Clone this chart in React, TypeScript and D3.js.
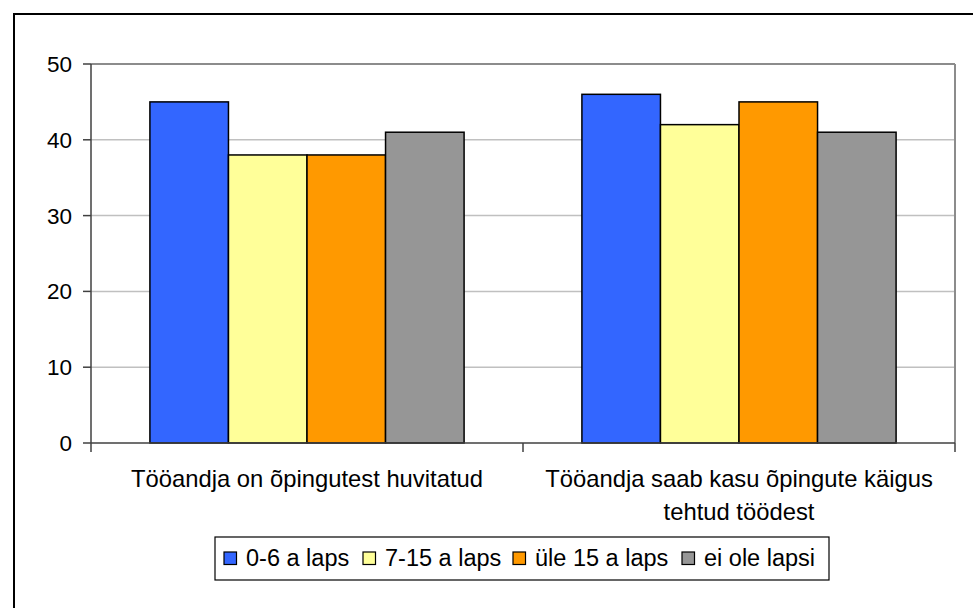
import React from "react";
import * as d3 from "d3";

const categories = [
  ["Tööandja on õpingutest huvitatud"],
  ["Tööandja saab kasu õpingute käigus", "tehtud töödest"],
];
const seriesNames = ["0-6 a laps", "7-15 a laps", "üle 15 a laps", "ei ole lapsi"];
const seriesColors = ["#3366FF", "#FFFF99", "#FF9900", "#969696"];
const values = [
  [45, 38, 38, 41],
  [46, 42, 45, 41],
];
const yTicks = [0, 10, 20, 30, 40, 50];

const W = 973;
const H = 608;
const plot = { left: 91, right: 955, top: 64, bottom: 443 };
const FONT = "'Liberation Sans', Arial, sans-serif";

export default function App() {
  const y = d3.scaleLinear().domain([0, 50]).range([plot.bottom, plot.top]);
  const x0 = d3
    .scaleBand<number>()
    .domain(categories.map((_, i) => i))
    .range([plot.left, plot.right])
    .paddingInner(0)
    .paddingOuter(0);
  const groupW = x0.bandwidth();
  const barW = groupW / (4 + 1.5);
  const x1 = d3
    .scaleBand<number>()
    .domain(seriesNames.map((_, i) => i))
    .range([barW * 0.75, groupW - barW * 0.75])
    .padding(0);

  const itemStarts = [224, 363, 513, 682];

  return (
    <svg
      width={W}
      height={H}
      style={{ position: "absolute", left: 0, top: 0, display: "block", background: "#fff" }}
      fontFamily={FONT}
    >
      <rect x={0} y={0} width={W} height={H} fill="#fff" />
      <rect x={14} y={14} width={1100} height={800} fill="#fff" stroke="#000" strokeWidth={2} />

      {/* gridlines */}
      {yTicks.slice(1).map((t) => (
        <line
          key={t}
          x1={plot.left}
          x2={plot.right}
          y1={y(t)}
          y2={y(t)}
          stroke={t === 50 ? "#8c8c8c" : "#c0c0c0"}
          strokeWidth={t === 50 ? 2 : 1.5}
        />
      ))}
      <line x1={plot.right} x2={plot.right} y1={plot.top} y2={plot.bottom} stroke="#8c8c8c" strokeWidth={2} />

      {/* bars */}
      {values.map((vals, ci) =>
        vals.map((v, si) => (
          <rect
            key={`${ci}-${si}`}
            x={(x0(ci) as number) + (x1(si) as number)}
            y={y(v)}
            width={x1.bandwidth()}
            height={y(0) - y(v)}
            fill={seriesColors[si]}
            stroke="#000"
            strokeWidth={1.5}
          />
        ))
      )}

      {/* y axis */}
      <line x1={plot.left} x2={plot.left} y1={plot.top} y2={plot.bottom} stroke="#404040" strokeWidth={1.5} />
      {yTicks.map((t) => (
        <g key={t}>
          <line x1={plot.left - 8} x2={plot.left} y1={y(t)} y2={y(t)} stroke="#404040" strokeWidth={1.5} />
          <text x={72} y={y(t) + 8} textAnchor="end" fontSize={22.5} fill="#000">
            {t}
          </text>
        </g>
      ))}

      {/* x axis */}
      <line x1={plot.left} x2={plot.right} y1={plot.bottom} y2={plot.bottom} stroke="#404040" strokeWidth={1.5} />
      {[0, 1, 2].map((i) => {
        const xx = plot.left + i * groupW;
        return <line key={i} x1={xx} x2={xx} y1={plot.bottom} y2={plot.bottom + 9} stroke="#404040" strokeWidth={1.5} />;
      })}
      {categories.map((lines, ci) => (
        <text key={ci} textAnchor="middle" fontSize={23.8} fill="#000">
          {lines.map((l, li) => (
            <tspan key={li} x={(x0(ci) as number) + groupW / 2} y={487 + li * 33}>
              {l}
            </tspan>
          ))}
        </text>
      ))}

      {/* legend */}
      <rect x={215} y={537} width={614} height={43} fill="#fff" stroke="#000" strokeWidth={1.2} />
      {seriesNames.map((n, i) => (
        <g key={n}>
          <rect x={itemStarts[i]} y={552} width={12.5} height={12.5} fill={seriesColors[i]} stroke="#000" strokeWidth={1.2} />
          <text x={itemStarts[i] + 22} y={566} fontSize={23.5} fill="#000">
            {n}
          </text>
        </g>
      ))}
    </svg>
  );
}
